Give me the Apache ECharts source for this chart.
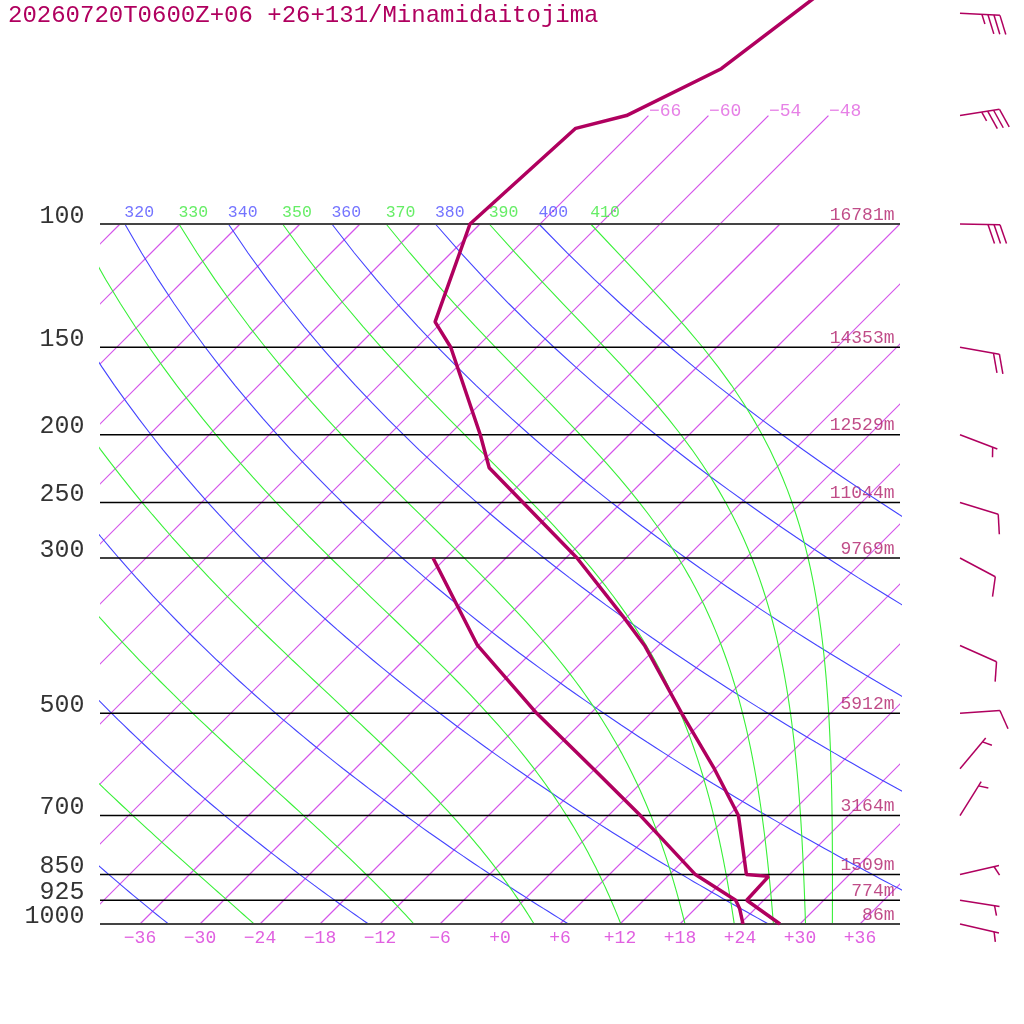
<!DOCTYPE html>
<html>
<head>
<meta charset="utf-8">
<script src="https://cdn.jsdelivr.net/npm/echarts@6.0.0/dist/echarts.min.js"></script>
<style>
  html, body { margin: 0; padding: 0; background: #fff; }
  #main { width: 1024px; height: 1024px; }
</style>
</head>
<body>
<div id="main"></div>
<script>
var titleText = '20260720T0600Z+06 +26+131/Minamidaitojima';

// standard levels drawn as lines, with their heights
var levels = [100, 150, 200, 250, 300, 500, 700, 850, 925, 1000];
var heights = ['16781m', '14353m', '12529m', '11044m', '9769m', '5912m', '3164m', '1509m', '774m', '86m'];

// temperature profile (hPa, degC)
var tempP = [30, 60, 70, 73, 100, 138, 150, 200, 223, 300, 366, 400, 500, 600, 700, 850, 855, 925, 1000];
var tempT = [-56.8, -63.4, -68.2, -72.0, -73.0, -66.7, -62.6, -50.9, -46.7, -28.9, -18.1, -13.4, -2.9, 5.9, 13.0, 19.7, 22.1, 22.3, 28.0];

// dew point profile
var dewP = [300, 400, 500, 600, 700, 850, 925, 950, 1000];
var dewT = [-43.3, -30.1, -17.4, -6.2, 3.2, 14.6, 21.2, 22.4, 24.3];

// winds: direction (deg) and speed (kt)
var windP = [50, 70, 100, 150, 200, 250, 300, 400, 500, 600, 700, 850, 925, 1000];
var windDir = [93, 81, 91, 100, 111, 107, 118, 114, 86, 40, 32, 77, 99, 103];
var windKt = [35, 35, 30, 20, 5, 10, 10, 10, 10, 5, 5, 5, 5, 5];

// background lines
var isotherms = [-108, -102, -96, -90, -84, -78, -72, -66, -60, -54, -48, -42, -36, -30, -24, -18, -12, -6, 0, 6, 12, 18, 24, 30, 36];
var isoTop = [-66, -60, -54, -48];          // these run on above 100 hPa
var isoTopP = 70;
var bottomTicks = [-36, -30, -24, -18, -12, -6, 0, 6, 12, 18, 24, 30, 36];
var dryTheta = [240, 260, 280, 300, 320, 340, 360, 380, 400];
var moistThetaE = [250, 270, 290, 310, 330, 350, 370, 390, 410];

var C_SND = '#b0005f', C_ISO = '#d454ea', C_ISOTXT = '#e060e0';
var C_DRY = '#4444ff', C_MOIST = '#38f038';
var FONT = 'Liberation Mono';
var SKEW = 70;   // x shift (deg) per decade of pressure
var yMin = Math.pow(10, 3 - 924 / 700);

function skewX(t, p) { return t + SKEW * Math.log10(1000 / p); }
function fmtT(t) { return t < 0 ? '\u2212' + (-t) : '+' + t; }

function esat(tc) { return 6.112 * Math.exp(17.67 * tc / (tc + 243.5)); }
function thetaE(tk, p) {
  var e = esat(tk - 273.15);
  if (e > p * 0.5) return Infinity;
  var r = 622 * e / (p - e);
  return tk * Math.pow(1000 / p, 0.2854 * (1 - 0.00028 * r)) *
    Math.exp((3.376 / tk - 0.00254) * r * (1 + 0.00081 * r));
}
function moistT(te, p) {
  var lo = 120, hi = 340, mid;
  for (var i = 0; i < 50; i++) {
    mid = (lo + hi) / 2;
    if (thetaE(mid, p) > te) hi = mid; else lo = mid;
  }
  return mid - 273.15;
}

var curveP = [];
for (var pp = 1000; pp >= 100; pp -= 10) curveP.push(pp);

function bgLine(color, width, data) {
  return {
    type: 'line', symbol: 'none', silent: true, clip: true,
    itemStyle: { color: color },
    lineStyle: { color: color, width: width },
    data: data
  };
}

var series = [];

// isotherms, drawn as custom straight segments
series.push({
  type: 'custom', clip: true, silent: true,
  encode: { x: 0, y: 1 },
  data: isotherms.map(function (t) { return [t, isoTop.indexOf(t) >= 0 ? isoTopP : 100]; }),
  renderItem: function (params, api) {
    var t = api.value(0), top = api.value(1);
    var a = api.coord([skewX(t, 1000), 1000]);
    var b = api.coord([skewX(t, top), top]);
    return {
      type: 'line',
      shape: { x1: a[0], y1: a[1], x2: b[0], y2: b[1] },
      style: { stroke: C_ISO, lineWidth: 1.2, fill: null }
    };
  }
});

dryTheta.forEach(function (th) {
  series.push(bgLine(C_DRY, 1.1, curveP.map(function (p) {
    return [skewX(th * Math.pow(p / 1000, 0.286) - 273.15, p), p];
  })));
});

moistThetaE.forEach(function (te) {
  series.push(bgLine(C_MOIST, 1.1, curveP.map(function (p) {
    return [skewX(moistT(te, p), p), p];
  })));
});

levels.forEach(function (p) {
  var edge = (p === 100 || p === 1000);
  series.push(bgLine(edge ? '#444' : '#000', edge ? 2 : 1.5, [[-40, p], [40, p]]));
});

function textLayer(data, label) {
  return {
    type: 'scatter', symbolSize: 1, itemStyle: { color: 'rgba(0,0,0,0)' }, silent: true,
    data: data, label: Object.assign({ show: true, fontFamily: FONT }, label)
  };
}

// pressure labels
series.push(textLayer(levels.map(function (p) { return [-40, p]; }), {
  position: 'left', distance: 15, offset: [0, -8],
  formatter: function (o) { return String(o.value[1]); },
  color: '#000', fontSize: 25, lineHeight: 20
}));

// height labels
series.push(textLayer(levels.map(function (p, i) { return [40, p, heights[i]]; }), {
  position: 'left', distance: 5, offset: [0, -9],
  formatter: function (o) { return o.value[2]; },
  color: '#b01f6a', fontSize: 18, lineHeight: 16
}));

// theta labels along 100 hPa
function thetaLabels(vals, fn, color) {
  var data = vals.map(function (v) { return [skewX(fn(v), 100), 100, v]; })
    .filter(function (d) { return d[0] >= -40; });
  return textLayer(data, {
    position: 'right', distance: 0, offset: [-1, -11],
    formatter: function (o) { return String(o.value[2]); },
    color: color, fontSize: 16.5
  });
}
series.push(thetaLabels(dryTheta, function (th) { return th * Math.pow(0.1, 0.286) - 273.15; }, '#5050ff'));
series.push(thetaLabels(moistThetaE, function (te) { return moistT(te, 100); }, '#40e840'));

// isotherm labels up top
series.push(textLayer(isoTop.map(function (t) { return [skewX(t, isoTopP), isoTopP, t]; }), {
  position: 'right', distance: 0, offset: [0, -4],
  formatter: function (o) { return fmtT(o.value[2]); },
  color: C_ISOTXT, fontSize: 18
}));

// sounding
series.push(bgLine(C_SND, 3.5, tempP.map(function (p, i) { return [skewX(tempT[i], p), p]; })));
series.push(bgLine(C_SND, 3.5, dewP.map(function (p, i) { return [skewX(dewT[i], p), p]; })));

// wind barbs right of the plot
series.push({
  type: 'custom', clip: false, silent: true,
  encode: { y: 0 },
  data: windP.map(function (p, i) { return [p, windDir[i], windKt[i]]; }),
  renderItem: function (params, api) {
    var p = api.value(0), dir = api.value(1), spd = api.value(2);
    var b = api.coord([40, p]);
    var x0 = b[0] + 60, y0 = b[1];
    var a = dir * Math.PI / 180;
    var ux = Math.sin(a), uy = -Math.cos(a);
    var x1 = x0 + ux * 40, y1 = y0 + uy * 40;
    var ang = Math.atan2(uy, ux) + 70 * Math.PI / 180;
    var bx = Math.cos(ang), by = Math.sin(ang);
    var st = { stroke: C_SND, lineWidth: 1.5 };
    var kids = [{ type: 'line', shape: { x1: x0, y1: y0, x2: x1, y2: y1 }, style: st }];
    var full = Math.floor(spd / 10), half = (spd % 10) >= 5;
    for (var i = 0; i < full; i++) {
      var px = x1 - ux * i * 6, py = y1 - uy * i * 6;
      kids.push({ type: 'line', shape: { x1: px, y1: py, x2: px + bx * 20, y2: py + by * 20 }, style: st });
    }
    if (half) {
      var d = full > 0 ? full * 6 : 5;
      var hx = x1 - ux * d, hy = y1 - uy * d;
      kids.push({ type: 'line', shape: { x1: hx, y1: hy, x2: hx + bx * 10, y2: hy + by * 10 }, style: st });
    }
    return { type: 'group', children: kids };
  }
});

var chart = echarts.init(document.getElementById('main'));
chart.setOption({
  animation: false,
  backgroundColor: '#fff',
  title: {
    text: titleText, left: 8, top: 4, padding: 0,
    textStyle: { color: C_SND, fontSize: 24, fontWeight: 'normal', fontFamily: FONT }
  },
  grid: { left: 100, right: 124, top: 0, bottom: 100 },
  xAxis: {
    type: 'value', min: -40, max: 40,
    axisLine: { show: false }, axisTick: { show: false }, splitLine: { show: false },
    axisLabel: {
      customValues: bottomTicks, formatter: fmtT, margin: 5,
      color: C_ISOTXT, fontSize: 18, fontFamily: FONT
    }
  },
  yAxis: {
    type: 'log', logBase: 10, min: yMin, max: 1000, inverse: true, show: false
  },
  series: series
});
</script>
</body>
</html>
